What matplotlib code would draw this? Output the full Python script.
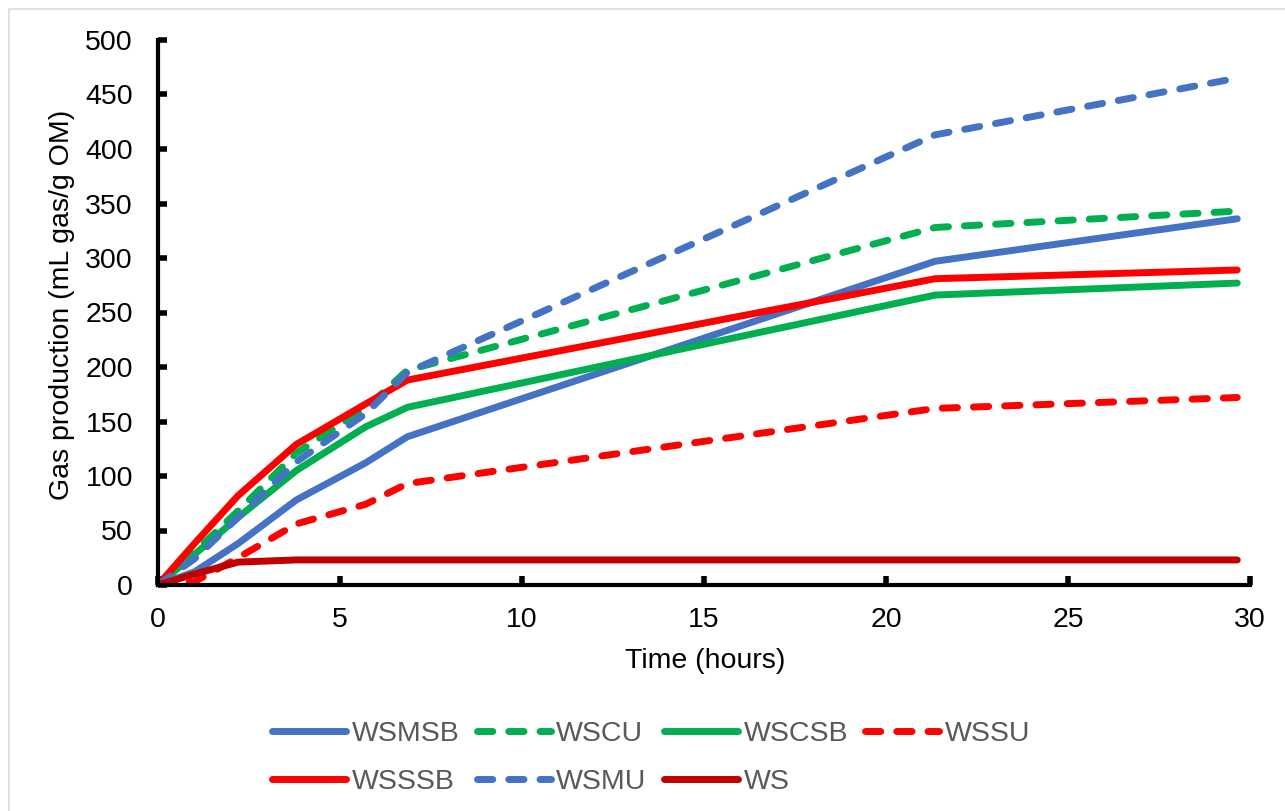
import matplotlib
matplotlib.use("Agg")
import matplotlib.pyplot as plt
from matplotlib.patches import Rectangle

plt.rcParams['font.family'] = ['Liberation Sans', 'DejaVu Sans']

time_h = [0, 1, 2.2, 3.8, 5.7, 6.85, 21.35, 29.65]

series_names = ["WSMSB", "WSCU", "WSCSB", "WSSU", "WSSSB", "WSMU", "WS"]
WSMSB = [0, 12, 38, 78, 112, 136, 297, 336]
WSCU = [0, 30, 68, 121, 162, 197, 328, 343]
WSCSB = [0, 28, 62, 105, 145, 163, 266, 277]
WSSU = [0, 3, 25, 56, 74, 93, 162, 172]
WSSSB = [0, 38, 82, 129, 166, 188, 281, 289]
WSMU = [0, 24, 62, 113, 157, 195, 413, 465]
WS = [0, 10, 21, 23, 23, 23, 23, 23]

values = [WSMSB, WSCU, WSCSB, WSSU, WSSSB, WSMU, WS]
colors = ["#4472C4", "#00B050", "#00B050", "#FF0000", "#FF0000", "#4472C4", "#C00000"]
dashed = [False, True, False, True, False, True, False]

x_ticks = [0, 5, 10, 15, 20, 25, 30]
y_ticks = [0, 50, 100, 150, 200, 250, 300, 350, 400, 450, 500]

W, H = 1285, 811
fig = plt.figure(figsize=(W / 100, H / 100), dpi=100)
ax = fig.add_axes([158 / W, 1 - 585 / H, (1250 - 158) / W, (585 - 40) / H])

lw = 5
handles = {}
for name, vals, c, d in zip(series_names, values, colors, dashed):
    if d:
        ln, = ax.plot(time_h, vals, color=c, lw=lw, dashes=(2.2, 2.3),
                      dash_capstyle='round', solid_joinstyle='round', label=name)
    else:
        ln, = ax.plot(time_h, vals, color=c, lw=lw, solid_capstyle='round',
                      solid_joinstyle='round', label=name)
    handles[name] = ln

ax.set_xlim(0, 30)
ax.set_ylim(0, 500)
ax.set_xticks(x_ticks)
ax.set_yticks(y_ticks)
ax.set_xticklabels([str(t) for t in x_ticks])
ax.set_yticklabels([str(t) for t in y_ticks])

for s in ['top', 'right']:
    ax.spines[s].set_visible(False)
for s in ['left', 'bottom']:
    ax.spines[s].set_linewidth(3)
    ax.spines[s].set_color('black')
    ax.spines[s].set_capstyle('projecting')

ax.tick_params(axis='both', direction='in', length=6.5, width=4, color='black',
               labelsize=20.5, labelcolor='black')
ax.tick_params(axis='y', pad=18)
ax.tick_params(axis='x', pad=16)

ax.set_ylabel("Gas production (mL gas/g OM)", fontsize=20.5, va='center')
ax.yaxis.set_label_coords(-0.0879, 0.514)
ax.set_xlabel("Time (hours)", fontsize=20.5, va='center')
ax.xaxis.set_label_coords(0.501, -0.139)

order = ["WSMSB", "WSSSB", "WSCU", "WSMU", "WSCSB", "WS", "WSSU"]
leg = fig.legend([handles[n] for n in order], order, ncol=4,
                 loc='center left', bbox_to_anchor=(272 / W, 1 - 758 / H),
                 frameon=False, fontsize=20.5, handlelength=2.6,
                 handletextpad=0.2, columnspacing=0.6, labelspacing=0.8,
                 borderpad=0, borderaxespad=0)
for t in leg.get_texts():
    t.set_color('#595959')

fig.patches.append(Rectangle((9 / W, -0.1), 1.2, 1 - 9 / H + 0.1,
                             transform=fig.transFigure, fill=False,
                             edgecolor='#D9D9D9', lw=1.2))

fig.savefig("out.png", dpi=100)
